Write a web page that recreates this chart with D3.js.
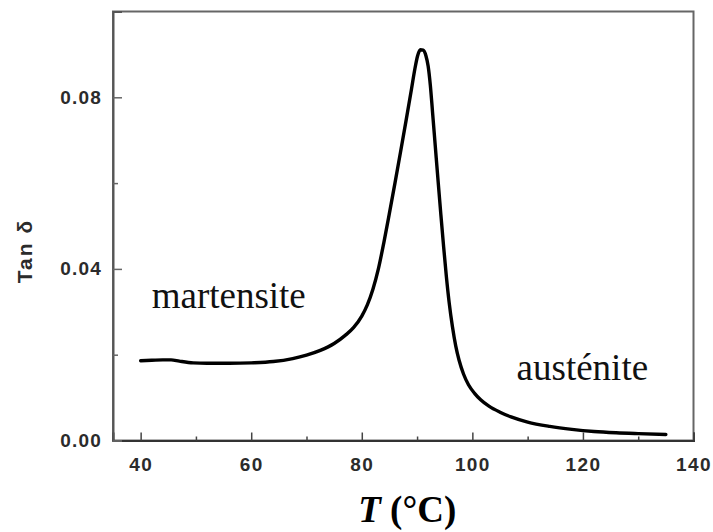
<!DOCTYPE html>
<html>
<head>
<meta charset="utf-8">
<script src="https://cdn.jsdelivr.net/npm/d3@7/dist/d3.min.js"></script>
<style>
  html, body { margin: 0; padding: 0; background: #fff; }
  svg { display: block; }
</style>
</head>
<body>
<div id="chart"></div>
<script>
// Temperature (°C)
const temperature = [40, 42, 44, 45.5, 47, 49.5, 52, 56, 60, 64, 67.5, 70, 72.5, 75, 77, 78.5, 80, 81, 82, 83, 84, 85, 86, 87, 88, 89, 89.6, 90.1, 90.6, 91.1, 91.6, 92, 92.4, 92.8, 93.3, 93.8, 94.3, 94.8, 95.3, 95.8, 96.4, 97, 97.6, 98.4, 99.3, 100.4, 101.5, 103, 105, 107, 110, 114, 118, 122, 126, 130, 135];
// Tan δ
const tanDelta = [0.0186, 0.0187, 0.0188, 0.0188, 0.0185, 0.0181, 0.0180, 0.0180, 0.0181, 0.0184, 0.0191, 0.0199, 0.0210, 0.0226, 0.0245, 0.0263, 0.0290, 0.0316, 0.0352, 0.0400, 0.0462, 0.0530, 0.0600, 0.0672, 0.0745, 0.0820, 0.0866, 0.0897, 0.0911, 0.0910, 0.0897, 0.0873, 0.0828, 0.0765, 0.0685, 0.0605, 0.0527, 0.0452, 0.0382, 0.0322, 0.0265, 0.0220, 0.0187, 0.0155, 0.0130, 0.0110, 0.0095, 0.0080, 0.0066, 0.0055, 0.0043, 0.0033, 0.0026, 0.0021, 0.0018, 0.0016, 0.0014];

const xMajorTicks = [40, 60, 80, 100, 120, 140];
const xMinorTicks = [50, 70, 90, 110, 130];
const yMajorTicks = [0.00, 0.04, 0.08];
const yMinorTicks = [0.02, 0.06];
const yTickLabels = ["0.00", "0.04", "0.08"];

const xLabelItalic = "T";
const xLabelRest = " (°C)";
const yLabel = "Tan δ";
const annotations = [
  { text: "martensite", t: 42, v: 0.0310 },
  { text: "austénite", t: 108, v: 0.0140 }
];

const W = 713, H = 532;
const margin = { left: 113, top: 11.5, right: W - 693.5, bottom: H - 440.5 };

const svg = d3.select("#chart").append("svg")
  .attr("width", W).attr("height", H);

const x = d3.scaleLinear().domain([35, 140]).range([margin.left, W - margin.right]);
const y = d3.scaleLinear().domain([0, 0.1]).range([H - margin.bottom, margin.top]);

const tickFont = "'Liberation Sans', Arial, Helvetica, sans-serif";

// Frame
svg.append("rect")
  .attr("x", x(35)).attr("y", y(0.1))
  .attr("width", x(140) - x(35)).attr("height", y(0) - y(0.1))
  .attr("fill", "none").attr("stroke", "#666").attr("stroke-width", 2);

// X axis (inward ticks)
const xAxis = svg.append("g")
  .attr("transform", `translate(0,${y(0)})`)
  .call(d3.axisBottom(x).tickValues(xMajorTicks).tickSize(-8).tickPadding(17).tickFormat(d3.format("d")));
xAxis.select(".domain").attr("stroke", "#333").attr("stroke-width", 2);
xAxis.selectAll(".tick line").attr("stroke", "#444").attr("stroke-width", 1.5);
xAxis.selectAll(".tick text")
  .attr("font-family", tickFont).attr("font-weight", "bold")
  .attr("font-size", 19).attr("letter-spacing", "1.4px").attr("fill", "#2b2b2b");

const xMinor = svg.append("g")
  .attr("transform", `translate(0,${y(0)})`)
  .call(d3.axisBottom(x).tickValues(xMinorTicks).tickSize(-4).tickFormat(""));
xMinor.select(".domain").remove();
xMinor.selectAll(".tick line").attr("stroke", "#444").attr("stroke-width", 1.5);

// Y axis (inward ticks)
const yAxis = svg.append("g")
  .attr("transform", `translate(${x(35)},0)`)
  .call(d3.axisLeft(y).tickValues(yMajorTicks).tickSize(-9).tickPadding(11)
    .tickFormat((d, i) => yTickLabels[i]));
yAxis.select(".domain").attr("stroke", "#555").attr("stroke-width", 2);
yAxis.selectAll(".tick line").attr("stroke", "#666").attr("stroke-width", 1.5);
yAxis.selectAll(".tick text")
  .attr("font-family", tickFont).attr("font-weight", "bold")
  .attr("font-size", 19).attr("letter-spacing", "1.2px").attr("fill", "#2b2b2b");

const yMinor = svg.append("g")
  .attr("transform", `translate(${x(35)},0)`)
  .call(d3.axisLeft(y).tickValues(yMinorTicks).tickSize(-5).tickFormat(""));
yMinor.select(".domain").remove();
yMinor.selectAll(".tick line").attr("stroke", "#666").attr("stroke-width", 1.5);

// Curve
const data = temperature.map((t, i) => ({ t, v: tanDelta[i] }));
svg.append("path")
  .datum(data)
  .attr("fill", "none")
  .attr("stroke", "#000")
  .attr("stroke-width", 3.4)
  .attr("stroke-linejoin", "round")
  .attr("stroke-linecap", "round")
  .attr("d", d3.line().x(d => x(d.t)).y(d => y(d.v)).curve(d3.curveMonotoneX));

// Annotations
svg.selectAll("text.annot")
  .data(annotations)
  .enter().append("text")
  .attr("class", "annot")
  .attr("x", d => x(d.t)).attr("y", d => y(d.v))
  .attr("font-family", "'Liberation Serif', 'Times New Roman', serif")
  .attr("font-size", 37)
  .attr("fill", "#111")
  .text(d => d.text);

// Y label
svg.append("text")
  .attr("transform", `translate(32,${(y(0) + y(0.1)) / 2 + 25}) rotate(-90)`)
  .attr("text-anchor", "middle")
  .attr("font-family", tickFont).attr("font-weight", "bold")
  .attr("font-size", 21).attr("letter-spacing", "2px").attr("fill", "#2b2b2b")
  .text(yLabel);

// X label
const xl = svg.append("text")
  .attr("x", x(87.5) + 4).attr("y", 522)
  .attr("text-anchor", "middle")
  .attr("font-family", "'Liberation Serif', 'Times New Roman', serif")
  .attr("font-weight", "bold").attr("font-size", 37).attr("fill", "#000");
xl.append("tspan").attr("font-style", "italic").text(xLabelItalic);
xl.append("tspan").text(xLabelRest);
</script>
</body>
</html>
